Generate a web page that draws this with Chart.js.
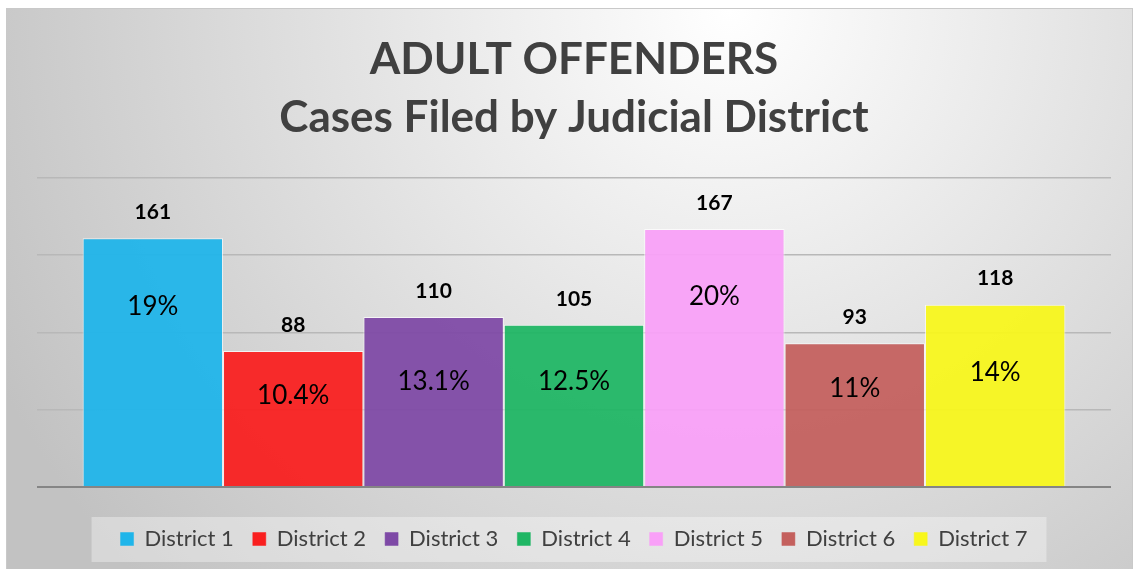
<!DOCTYPE html>
<html>
<head>
<meta charset="utf-8">
<script src="https://cdn.jsdelivr.net/npm/chart.js@4"></script>
<style>
  html, body { margin: 0; padding: 0; background: #fff; }
  #wrap { position: relative; width: 1133px; height: 569px; }
</style>
</head>
<body>
<div id="wrap"><canvas id="chart"></canvas></div>
<script>
// data
const districts = ['District 1', 'District 2', 'District 3', 'District 4', 'District 5', 'District 6', 'District 7'];
const cases = [161, 88, 110, 105, 167, 93, 118];
const shares = ['19%', '10.4%', '13.1%', '12.5%', '20%', '11%', '14%'];
const colors = ['#1fb5ea', '#f91f1f', '#7e49a6', '#1fb664', '#f9a0f8', '#c4605d', '#f8f71c'];
const titleLines = ['ADULT OFFENDERS', 'Cases Filed by Judicial District'];

const FONT = 'Lato, "Open Sans", sans-serif';

function alpha(hex, a) {
  const n = parseInt(hex.slice(1), 16);
  return 'rgba(' + (n >> 16) + ',' + ((n >> 8) & 255) + ',' + (n & 255) + ',' + a + ')';
}

// grey radial backdrop + frame, and the lighter box behind the legend
const backdrop = {
  id: 'backdrop',
  beforeLayout(chart) {
    const lg = chart.legend;
    if (lg && !lg._patched) {
      const fit = lg.fit;
      lg.fit = function () { fit.call(this); this.height = 60; };
      lg._patched = true;
    }
  },
  beforeDraw(chart) {
    const ctx = chart.ctx;
    ctx.save();
    const g = ctx.createRadialGradient(730, 10, 0, 730, 10, 820);
    g.addColorStop(0, '#ffffff');
    g.addColorStop(1, '#c2c2c2');
    ctx.fillStyle = g;
    ctx.fillRect(6, 8, chart.width - 6, chart.height - 8);
    ctx.strokeStyle = '#c9c9c9';
    ctx.lineWidth = 1;
    ctx.strokeRect(6.5, 8.5, chart.width - 7, chart.height - 8);

    const boxes = chart.legend && chart.legend.legendHitBoxes;
    if (boxes && boxes.length) {
      const first = boxes[0], last = boxes[boxes.length - 1];
      const cy = first.top + first.height / 2;
      ctx.fillStyle = 'rgba(255,255,255,0.35)';
      ctx.fillRect(first.left - 29, cy - 22, last.left + last.width - first.left + 48, 45);
    }
    ctx.restore();
  }
};

// value above each bar, share inside it
const barLabels = {
  id: 'barLabels',
  afterDatasetsDraw(chart) {
    const ctx = chart.ctx;
    const y = chart.scales.y;
    ctx.save();
    ctx.textAlign = 'center';
    ctx.textBaseline = 'middle';
    ctx.fillStyle = '#000';
    chart.data.datasets.forEach((ds, i) => {
      const bar = chart.getDatasetMeta(i).data[0];
      ctx.font = 'bold 21px ' + FONT;
      ctx.fillText(String(ds.data[0]), bar.x, bar.y - 26);
      ctx.font = '26px ' + FONT;
      const py = Math.max(bar.y + 45, Math.min(bar.y + 68, y.getPixelForValue(68)));
      ctx.fillText(shares[i], bar.x, py);
    });
    ctx.restore();
  }
};

new Chart(document.getElementById('chart'), {
  type: 'bar',
  data: {
    labels: [''],
    datasets: districts.map((name, i) => ({
      label: name,
      data: [cases[i]],
      backgroundColor: alpha(colors[i], 0.94),
      borderColor: 'rgba(255,255,255,0.7)',
      borderWidth: 1
    }))
  },
  options: {
    responsive: true,
    maintainAspectRatio: false,
    animation: false,
    layout: { padding: { top: 8, left: 37, right: 22, bottom: 0 } },
    datasets: { bar: { categoryPercentage: 0.915, barPercentage: 1 } },
    scales: {
      x: {
        display: true,
        grid: { display: false },
        border: { display: false },
        ticks: { display: false },
        afterFit(scale) { scale.height = 22; }
      },
      y: {
        min: 0,
        max: 200,
        ticks: { display: false, stepSize: 50 },
        border: { display: false },
        grid: {
          drawTicks: false,
          color: ctx => ctx.tick.value === 0 ? '#858585' : '#b8b8b8',
          lineWidth: ctx => ctx.tick.value === 0 ? 2 : 1.6
        }
      }
    },
    plugins: {
      title: {
        display: true,
        text: titleLines,
        color: '#404040',
        font: { family: FONT, size: 44, weight: 'bold', lineHeight: 58 / 44 },
        padding: { top: 23, bottom: 31 }
      },
      legend: {
        position: 'bottom',
        labels: {
          boxWidth: 13,
          boxHeight: 13,
          padding: 19,
          color: '#404040',
          font: { family: FONT, size: 22 },
          generateLabels(chart) {
            return chart.data.datasets.map((ds, i) => ({
              text: ds.label,
              fillStyle: colors[i],
              strokeStyle: alpha(colors[i], 0.5),
              lineWidth: 1,
              fontColor: '#404040',
              datasetIndex: i
            }));
          }
        }
      },
      tooltip: { enabled: false }
    }
  },
  plugins: [backdrop, barLabels]
});
</script>
</body>
</html>
